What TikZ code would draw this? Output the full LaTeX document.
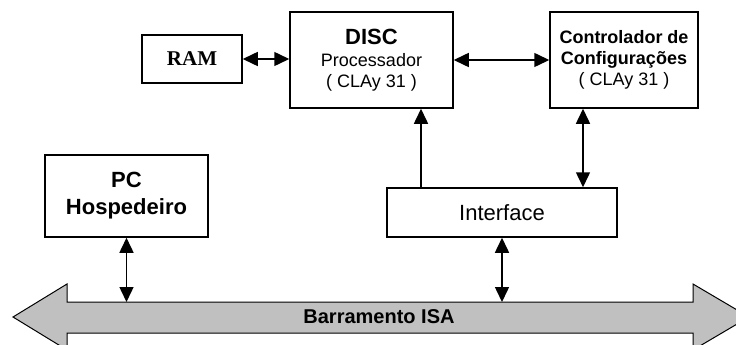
\documentclass[tikz,border=0pt]{standalone}
\usepackage{fontspec}
\setmainfont{Liberation Sans}
\newfontfamily\serifb{Liberation Serif}
\usetikzlibrary{arrows.meta}
\begin{document}
\begin{tikzpicture}[x=1pt,y=-1pt,
  box/.style={draw=black,line width=1.5pt,fill=white,inner sep=0pt,align=center,
    font=\fontsize{18}{21}\selectfont},
  conn/.style={line width=1.5pt,{Triangle[length=15pt,width=14pt]}-{Triangle[length=15pt,width=14pt]}},
  conn1/.style={line width=1.5pt,{Triangle[length=15pt,width=14pt]}-},
  bigf/.style={font=\fontsize{22}{27}\selectfont\bfseries}]
\useasboundingbox (0,0) rectangle (736,345);
% boxes
\node[box,minimum width=100pt,minimum height=48pt] (ram) at (192,59)
  {\serifb\fontsize{21}{21}\selectfont\bfseries RAM};
\node[box,minimum width=163pt,minimum height=96pt] (disc) at (371.5,60)
  {{\fontsize{22}{24}\selectfont\bfseries DISC}\\[1pt]Processador\\( CLAy 31 )};
\node[box,minimum width=148pt,minimum height=96pt] (ctrl) at (624,60)
  {\bfseries Controlador de\\\bfseries Configurações\\( CLAy 31 )};
\node[box,bigf,minimum width=163pt,minimum height=82pt] (pc) at (126.5,196)
  {PC\\Hospedeiro};
\node[box,minimum width=230pt,minimum height=49pt,font=\fontsize{22}{24}\selectfont] (iface) at (502,212.5)
  {Interface};
% bus
\draw[line width=1pt,fill={rgb,255:red,192;green,192;blue,192}]
  (13,317) -- (67,284) -- (67,302) -- (693,302) -- (693,284) -- (749,317)
  -- (693,350) -- (693,333) -- (67,333) -- (67,350) -- cycle;
\coordinate (bustop) at (381,302);
\node[font=\fontsize{20}{20}\selectfont\bfseries] (bus) at (379,317) {Barramento ISA};
% connectors
\draw[conn] (ram.east) -- (ram.east -| disc.west);
\draw[conn] (disc.east) -- (disc.east -| ctrl.west);
\draw[conn1] ([xshift=49.5pt]disc.south) -- ([xshift=49.5pt]disc.south |- iface.north);
\draw[conn] ([xshift=-41pt]ctrl.south) -- ([xshift=-41pt]ctrl.south |- iface.north);
\draw[conn] (pc.south) -- (pc.south |- bustop);
\draw[conn] (iface.south) -- (iface.south |- bustop);
\end{tikzpicture}
\end{document}
